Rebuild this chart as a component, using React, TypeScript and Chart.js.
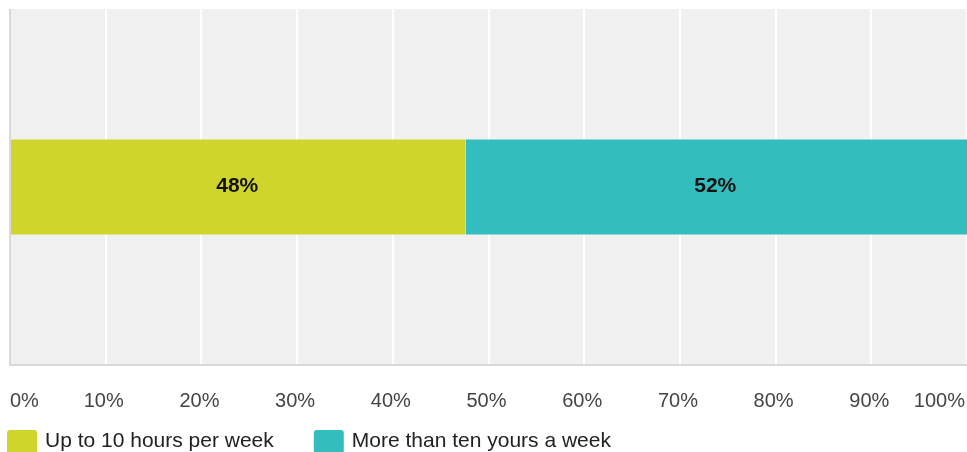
import React, { useEffect, useRef } from "react";
import { Chart, registerables } from "chart.js";

Chart.register(...registerables);

const categories: string[] = [""];
const seriesNames: string[] = ["Up to 10 hours per week", "More than ten yours a week"];
const upTo10Hours: number[] = [47.6];
const moreThanTen: number[] = [52.4];
const tickValues: number[] = [0, 10, 20, 30, 40, 50, 60, 70, 80, 90, 100];
const tickLabels: string[] = ["0%", "10%", "20%", "30%", "40%", "50%", "60%", "70%", "80%", "90%", "100%"];

const COLORS = ["#cfd52a", "#33bdbf"];
const FONT = "'Liberation Sans', Arial, Helvetica, sans-serif";

const decorPlugin = {
  id: "decor",
  beforeDraw(chart: any) {
    const { ctx, chartArea } = chart;
    ctx.save();
    ctx.fillStyle = "#f0f0f0";
    ctx.fillRect(chartArea.left, chartArea.top, chartArea.right - chartArea.left, chartArea.bottom - chartArea.top);
    ctx.restore();
  },
  afterDatasetsDraw(chart: any) {
    const { ctx, chartArea } = chart;
    ctx.save();
    ctx.strokeStyle = "#d9d9d9";
    ctx.lineWidth = 2;
    ctx.beginPath();
    ctx.moveTo(chartArea.left, chartArea.top);
    ctx.lineTo(chartArea.left, chartArea.bottom);
    ctx.lineTo(chartArea.right, chartArea.bottom);
    ctx.stroke();

    // data labels
    ctx.fillStyle = "#111";
    ctx.font = `bold 21px ${FONT}`;
    ctx.textAlign = "center";
    ctx.textBaseline = "middle";
    chart.data.datasets.forEach((ds: any, di: number) => {
      const meta = chart.getDatasetMeta(di);
      meta.data.forEach((el: any, i: number) => {
        const p = el.getCenterPoint();
        ctx.fillText(`${Math.round(ds.data[i])}%`, p.x - 1, p.y - 1);
      });
    });

    // tick labels
    const xs = chart.scales.x;
    ctx.fillStyle = "#444";
    ctx.font = `20px ${FONT}`;
    ctx.textBaseline = "middle";
    tickValues.forEach((v, i) => {
      let x = xs.getPixelForValue(v);
      if (i === 0) {
        ctx.textAlign = "left";
      } else if (i === tickValues.length - 1) {
        ctx.textAlign = "right";
        x -= 2;
      } else {
        ctx.textAlign = "center";
        x -= 2;
      }
      ctx.fillText(tickLabels[i], x, 401);
    });

    // legend
    ctx.font = `21px ${FONT}`;
    ctx.textAlign = "left";
    ctx.textBaseline = "alphabetic";
    let lx = 7;
    chart.data.datasets.forEach((ds: any) => {
      ctx.fillStyle = ds.backgroundColor;
      ctx.beginPath();
      (ctx as any).roundRect(lx, 430, 30, 24, 3);
      ctx.fill();
      ctx.fillStyle = "#222";
      const tx = lx + 38;
      ctx.fillText(ds.label, tx, 447);
      lx = tx + ctx.measureText(ds.label).width + 40;
    });
    ctx.restore();
  },
};

export default function App() {
  const ref = useRef<HTMLCanvasElement | null>(null);
  useEffect(() => {
    if (!ref.current) return;
    const chart = new Chart(ref.current, {
      type: "bar",
      data: {
        labels: categories,
        datasets: [
          {
            label: seriesNames[0],
            data: upTo10Hours,
            backgroundColor: COLORS[0],
            borderColor: "rgba(255,255,255,0.45)",
            borderWidth: { top: 1, bottom: 1, left: 0, right: 0 },
            borderSkipped: false,
            barPercentage: 0.272,
            categoryPercentage: 1,
          },
          {
            label: seriesNames[1],
            data: moreThanTen,
            backgroundColor: COLORS[1],
            borderColor: "rgba(255,255,255,0.45)",
            borderWidth: { top: 1, bottom: 1, left: 0, right: 0 },
            borderSkipped: false,
            barPercentage: 0.272,
            categoryPercentage: 1,
          },
        ],
      },
      options: {
        indexAxis: "y",
        responsive: false,
        animation: false,
        layout: { padding: { left: 10, top: 9, right: 0, bottom: 87 } },
        plugins: {
          legend: { display: false },
          tooltip: { enabled: false },
        },
        scales: {
          x: {
            stacked: true,
            min: 0,
            max: 100,
            ticks: { display: false, stepSize: 10 },
            grid: { color: "#ffffff", lineWidth: 2, drawTicks: false },
            border: { display: false },
          },
          y: {
            stacked: true,
            display: false,
          },
        },
      },
      plugins: [decorPlugin],
    } as any);
    return () => chart.destroy();
  }, []);
  return (
    <div style={{ position: "absolute", left: 0, top: 0, width: 967, height: 452 }}>
      <canvas ref={ref} width={967} height={452} style={{ width: 967, height: 452, display: "block" }} />
    </div>
  );
}
